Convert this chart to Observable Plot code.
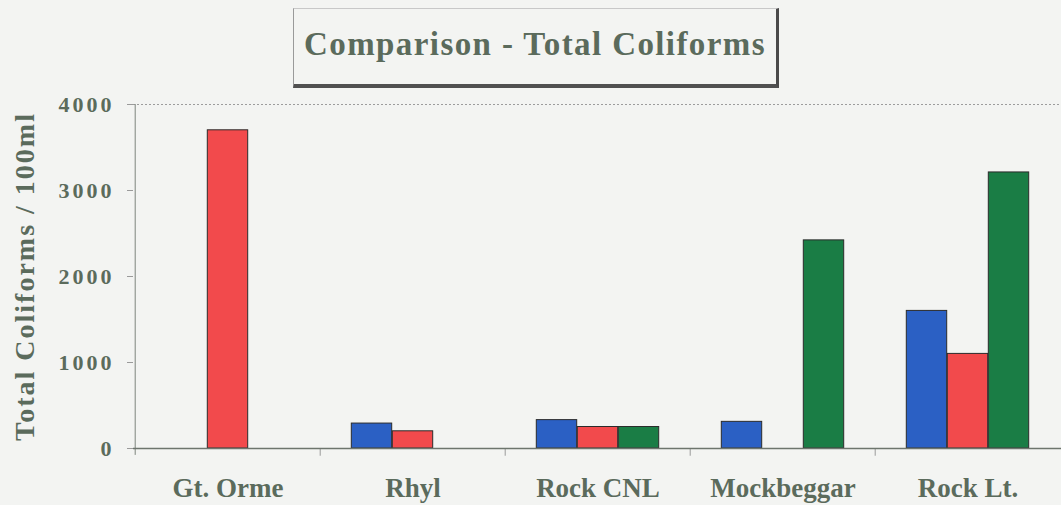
<!DOCTYPE html>
<html>
<head>
<meta charset="utf-8">
<script src="https://cdn.jsdelivr.net/npm/d3@7"></script>
<script src="https://cdn.jsdelivr.net/npm/@observablehq/plot@0.6"></script>
<style>
  html, body { margin: 0; padding: 0; background: #f3f4f2; }
  #wrap { position: relative; width: 1061px; height: 505px; overflow: hidden; background: #f3f4f2; }
  #title {
    position: absolute; left: 293px; top: 8px; width: 486px; height: 80px;
    border-left: 1px solid #9a9a9a; border-top: 1px solid #c8c8c8;
    border-right: 3px solid #4a4a4a; border-bottom: 4px solid #505050;
    box-sizing: border-box;
    font-family: "Liberation Serif", "Times New Roman", serif; font-weight: bold;
    font-size: 33px; color: #5b6b5c; text-align: center; line-height: 70px;
    letter-spacing: 1.4px;
  }
  svg { background: transparent; }
  g[aria-label="y-axis tick label"] text { letter-spacing: 3px; }
  g.ylab text { letter-spacing: 2px; }
</style>
</head>
<body>
<div id="wrap">
  <div id="title">Comparison - Total Coliforms</div>
</div>
<script>
const sites = ["Gt. Orme", "Rhyl", "Rock CNL", "Mockbeggar", "Rock Lt."];
const blueValues  = [0, 290, 330, 310, 1600];
const redValues   = [3700, 200, 250, 0, 1100];
const greenValues = [0, 0, 250, 2420, 3210];
const yTicks = [0, 1000, 2000, 3000, 4000];
const yLabel = "Total Coliforms / 100ml";

const seriesColors = ["#2b60c4", "#f24a4c", "#1a7d45"];
const textColor = "#5b6b5c";

const W = 1061, H = 505;
const mL = 133, mR = 0, mT = 104, mB = 57;
const bw = (W - mL - mR) / sites.length;
const barW = 41;
const inset = (bw - barW) / 2;

const rows = sites.map((s, i) => ({site: s, blue: blueValues[i], red: redValues[i], green: greenValues[i]}));
const keys = ["blue", "red", "green"];

const barMarks = keys.map((k, j) => Plot.barY(rows, {
  x: "site", y: k, fill: seriesColors[j], stroke: "#2b2b2b", strokeWidth: 1,
  insetLeft: inset, insetRight: inset, dx: (j - 1) * barW
}));

const chart = Plot.plot({
  width: W, height: H,
  marginLeft: mL, marginRight: mR, marginTop: mT, marginBottom: mB,
  style: {background: "transparent", fontFamily: "'Liberation Serif', 'Times New Roman', serif"},
  x: {domain: sites, padding: 0},
  y: {domain: [0, 4000]},
  marks: [
    Plot.ruleY([4000], {stroke: "#9c9c9c", strokeDasharray: "2,2", strokeWidth: 1}),
    Plot.ruleX(sites.slice(1), {x: d => d, y1: -90, y2: 0, dx: -bw / 2, stroke: "#9a9a9a"}),
    Plot.ruleX([sites[0]], {x: d => d, y1: -80, y2: 4000, dx: -bw / 2, stroke: "#7d857d"}),
    ...barMarks,
    Plot.ruleY([0], {stroke: "#6d756d", strokeWidth: 1.5}),
    Plot.axisY({ticks: yTicks, tickSize: 6, tickPadding: 13, label: null,
      fontSize: 22, fontWeight: "bold", fill: textColor, stroke: "#9a9a9a", tickFormat: d => String(d)}),
    Plot.axisX({tickSize: 0, tickPadding: 29, label: null, fontSize: 27, fontWeight: "bold", fill: textColor}),
    Plot.text([yLabel], {frameAnchor: "left", rotate: -90, dx: -108, textAnchor: "middle", className: "ylab",
      fontSize: 28, fontWeight: "bold", fill: textColor, text: d => d})
  ]
});
document.getElementById("wrap").prepend(chart);
</script>
</body>
</html>
